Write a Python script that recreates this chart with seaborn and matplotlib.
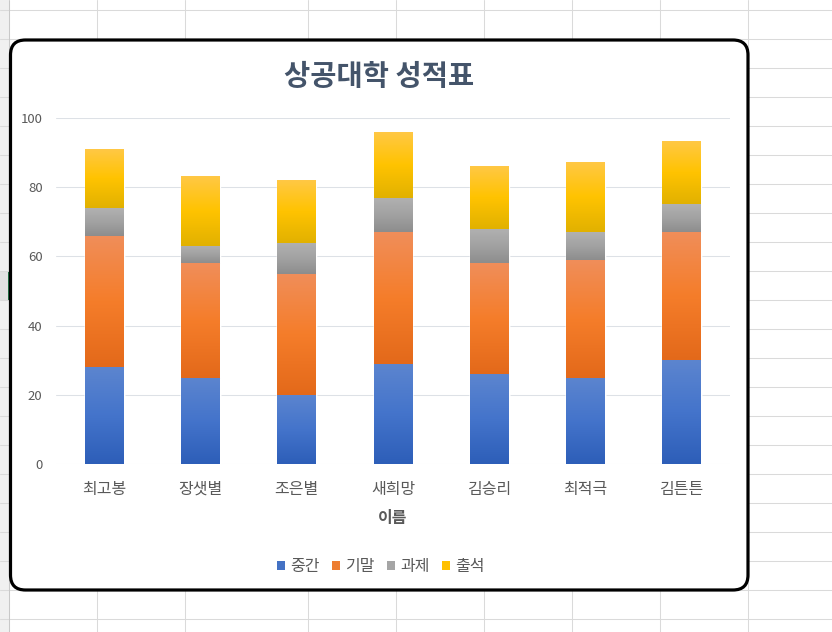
import numpy as np
import pandas as pd
import matplotlib
matplotlib.use("Agg")
import matplotlib.pyplot as plt
import seaborn as sns
from matplotlib.patches import FancyBboxPatch, Rectangle, Patch
from matplotlib.colors import LinearSegmentedColormap

# ---------------- data ----------------
names = ["최고봉", "장샛별", "조은별", "새희망", "김승리", "최적극", "김튼튼"]
midterm = [28, 25, 20, 29, 26, 25, 30]
final = [38, 33, 35, 38, 32, 34, 37]
homework = [8, 5, 9, 10, 10, 8, 8]
attendance = [17, 20, 18, 19, 18, 20, 18]
series_names = ["중간", "기말", "과제", "출석"]
title_text = "상공대학 성적표"
xlabel_text = "이름"
yticks = [0, 20, 40, 60, 80, 100]

# ---------------- style ----------------
sns.set_theme(style="white")
plt.rcParams['font.family'] = ['Noto Sans CJK KR', 'DejaVu Sans']

base_colors = ["#4472C4", "#ED7D31", "#A5A5A5", "#FFC000"]
# gradient stops bottom -> top
grad_stops = [
    ["#2D5EB8", "#4474CB", "#5C85CF"],
    ["#E3691A", "#F57D2A", "#F08E5A"],
    ["#8D8D8D", "#A2A2A2", "#B1B1B1"],
    ["#E1B100", "#FFC300", "#FFC845"],
]
text_col = "#595959"
title_col = "#44546A"

W, H = 832, 632
fig = plt.figure(figsize=(W / 100, H / 100), dpi=100)

# ---------------- spreadsheet background ----------------
bg = fig.add_axes([0, 0, 1, 1], zorder=0)
bg.set_xlim(0, W)
bg.set_ylim(H, 0)
bg.axis('off')
bg.add_patch(Rectangle((0, 0), 9, H, fc="#F0F0F0", ec='none'))
bg.add_patch(Rectangle((0, 271), 9, 29, fc="#E1E1E1", ec='none'))
for y in range(10, H, 29):
    bg.plot([0, W], [y, y], color="#DADADA", lw=0.75)
for x in [97, 185, 308, 396, 484, 572, 660, 748]:
    bg.plot([x, x], [0, H], color="#DADADA", lw=0.75)
bg.plot([9, 9], [0, H], color="#C8C8C8", lw=0.75)
bg.add_patch(Rectangle((7.5, 271), 2, 29, fc="#217346", ec='none'))
bg.add_patch(FancyBboxPatch((10.5, 40), 737.5, 550,
                            boxstyle="round,pad=0,rounding_size=15",
                            fc="white", ec="black", lw=2.3, zorder=5))

# ---------------- chart ----------------
ax = fig.add_axes([56.4 / W, 1 - 464 / H, (729.6 - 56.4) / W, 346 / H], zorder=2)
ax.patch.set_alpha(0)

layers = [midterm, final, homework, attendance]
cum = np.cumsum(np.array(layers), axis=0)
patches_by_layer = {}
for k in reversed(range(4)):
    n0 = len(ax.patches)
    sns.barplot(x=names, y=cum[k], order=names, color=base_colors[k],
                saturation=1, width=0.405, errorbar=None, ax=ax)
    patches_by_layer[k] = sorted(ax.patches[n0:], key=lambda p: p.get_x())

grad = np.linspace(0, 1, 256).reshape(-1, 1)
for k in range(4):
    cmap = LinearSegmentedColormap.from_list(f"g{k}", grad_stops[k])
    for p, v in zip(patches_by_layer[k], layers[k]):
        x0 = p.get_x()
        w = p.get_width()
        top = p.get_y() + p.get_height()
        ax.imshow(grad, extent=[x0, x0 + w, top - v, top], origin='lower',
                  cmap=cmap, aspect='auto', interpolation='bilinear', zorder=3)

ax.set_xlim(-0.5, len(names) - 0.5)
ax.set_ylim(0, 100)
ax.set_yticks(yticks)
ax.set_yticklabels([str(t) for t in yticks])
ax.grid(axis='y', color="#DDE1E6", lw=0.75)
ax.grid(axis='x', visible=False)
ax.set_axisbelow(True)
for s in ax.spines.values():
    s.set_visible(False)
ax.tick_params(axis='y', length=0, pad=10, labelsize=9.5, colors=text_col)
ax.tick_params(axis='x', length=0, pad=12, labelsize=11.5, colors=text_col)
ax.set_ylabel("")
ax.set_xlabel(xlabel_text, fontsize=11.5, fontweight='bold', color=text_col)
ax.xaxis.set_label_coords(0.5, (464 - 518) / 346)
ax.xaxis.label.set_va('center')

fig.text(379 / W, 1 - 77 / H, title_text, ha='center', va='center',
         fontsize=20.5, fontweight='bold', color=title_col)

handles = [Patch(fc=c, ec='none') for c in base_colors]
leg = fig.legend(handles, series_names, loc='center',
                 bbox_to_anchor=(381 / W, 1 - 567 / H), ncol=4, frameon=False,
                 fontsize=11.5, handlelength=0.5, handleheight=0.5,
                 handletextpad=0.3, columnspacing=0.8, borderaxespad=0)
for t in leg.get_texts():
    t.set_color(text_col)
leg.set_zorder(10)

fig.savefig("out.png", dpi=100)
